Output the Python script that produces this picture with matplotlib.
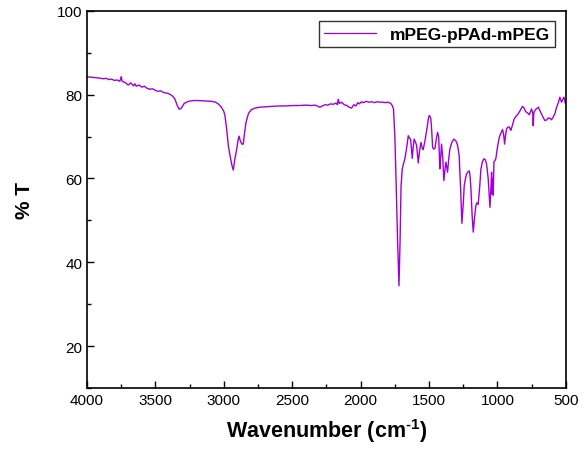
import matplotlib
matplotlib.use("Agg")
import matplotlib.pyplot as plt
from matplotlib.ticker import MultipleLocator

plt.rcParams['font.family'] = ['Liberation Sans', 'DejaVu Sans']
plt.rcParams['mathtext.fontset'] = 'custom'
plt.rcParams['mathtext.rm'] = 'Liberation Sans:bold'
plt.rcParams['mathtext.bf'] = 'Liberation Sans:bold'

# FTIR spectrum of mPEG-pPAd-mPEG
wavenumber = [4000, 3980, 3950, 3920, 3900, 3880, 3860, 3840, 3820, 3800, 3780,
              3760, 3750, 3745, 3740, 3720, 3700, 3680, 3660, 3650, 3640, 3620,
              3600, 3580, 3560, 3540, 3520, 3500, 3480, 3460, 3440, 3420, 3400,
              3380, 3360, 3340, 3326, 3310, 3290, 3260, 3220, 3187, 3140, 3089,
              3060, 3041, 3020, 3000, 2992, 2980, 2967, 2955, 2940, 2931, 2920,
              2906, 2895, 2889, 2880, 2868, 2858, 2848, 2838, 2820, 2800, 2772,
              2740, 2700, 2650, 2600, 2550, 2500, 2450, 2400, 2360, 2334, 2310,
              2297, 2280, 2260, 2240, 2220, 2200, 2180, 2170, 2164, 2155, 2140,
              2120, 2100, 2085, 2066, 2050, 2035, 2020, 2010, 1993, 1980, 1960,
              1940, 1920, 1900, 1880, 1860, 1840, 1820, 1799, 1780, 1769, 1760,
              1750, 1740, 1730, 1720, 1712, 1705, 1696, 1687, 1677, 1665, 1652,
              1643, 1635, 1623, 1616, 1609, 1600, 1591, 1579, 1570, 1559, 1550,
              1543, 1530, 1515, 1505, 1499, 1493, 1487, 1480, 1474, 1466, 1457,
              1448, 1438, 1430, 1421, 1415, 1409, 1400, 1392, 1384, 1377, 1370,
              1365, 1357, 1348, 1335, 1319, 1305, 1294, 1287, 1280, 1270, 1260,
              1250, 1243, 1234, 1226, 1215, 1206, 1200, 1194, 1185, 1177, 1168,
              1158, 1150, 1141, 1130, 1121, 1110, 1099, 1090, 1080, 1068, 1055,
              1049, 1043, 1039, 1036, 1031, 1026, 1020, 1012, 1000, 987, 975,
              963, 955, 948, 940, 933, 925, 914, 908, 902, 890, 878, 865, 849,
              835, 817, 805, 795, 787, 775, 768, 760, 751, 742, 739, 736, 734,
              720, 701, 690, 680, 665, 653, 640, 630, 617, 605, 592, 580, 568,
              556, 544, 538, 532, 524, 515, 510, 505, 500]
transmittance = [84.3, 84.2, 84.1, 84.0, 83.9, 83.8, 83.9, 83.6, 83.7, 83.4, 83.5,
                 83.2, 84.3, 83.4, 83.1, 82.9, 82.3, 82.8, 82.1, 82.6, 82.0, 82.3,
                 81.8, 82.0, 81.5, 81.3, 81.4, 81.0, 80.8, 80.9, 80.5, 80.4, 80.2,
                 79.8, 79.1, 77.4, 76.5, 76.8, 77.9, 78.4, 78.6, 78.6, 78.5, 78.4,
                 78.2, 77.8, 77.1, 76.0, 75.0, 72.0, 67.8, 65.5, 63.0, 62.0, 64.5,
                 67.0, 69.3, 70.1, 69.0, 68.2, 68.2, 71.0, 73.4, 75.5, 76.4, 76.8,
                 77.0, 77.1, 77.2, 77.3, 77.3, 77.4, 77.4, 77.5, 77.4, 77.5, 77.2,
                 77.0, 77.3, 77.6, 77.5, 77.8, 77.7, 78.0, 77.6, 78.9, 77.9, 78.2,
                 77.6, 77.4, 77.0, 76.8, 77.6, 77.3, 78.1, 77.8, 78.3, 78.1, 78.4,
                 78.2, 78.3, 78.1, 78.3, 78.2, 78.2, 78.1, 78.2, 77.9, 77.4, 76.6,
                 70.0, 58.0, 45.0, 34.4, 45.0, 58.0, 62.3, 63.5, 64.7, 67.0, 70.2,
                 69.6, 69.4, 64.8, 67.5, 69.4, 68.7, 67.9, 63.7, 66.5, 68.6, 67.2,
                 66.9, 69.0, 72.0, 74.3, 75.0, 74.8, 74.3, 71.0, 67.4, 67.0, 67.2,
                 69.2, 71.0, 70.0, 62.3, 65.0, 68.2, 65.0, 59.5, 62.0, 63.9, 62.5,
                 61.5, 64.5, 67.0, 68.5, 69.4, 69.0, 68.2, 67.0, 65.4, 58.0, 49.3,
                 54.0, 58.3, 60.0, 61.1, 61.6, 61.8, 60.5, 57.5, 51.0, 47.2, 50.5,
                 53.5, 54.2, 53.8, 58.0, 62.3, 64.0, 64.7, 64.5, 63.5, 60.0, 53.1,
                 57.0, 61.5, 56.3, 60.0, 56.0, 63.9, 64.2, 64.7, 67.5, 69.8, 70.8,
                 71.7, 70.5, 68.2, 70.5, 71.9, 72.2, 72.3, 71.8, 71.5, 72.8, 74.2,
                 74.8, 75.4, 76.2, 77.2, 76.8, 76.0, 75.8, 75.5, 75.2, 75.8, 76.6,
                 75.5, 72.6, 74.5, 75.8, 76.5, 77.0, 76.2, 75.5, 74.5, 73.8, 74.0,
                 74.4, 74.4, 74.0, 74.7, 75.5, 77.0, 78.0, 79.4, 78.8, 78.2, 78.8,
                 79.4, 78.9, 78.0, 78.2]

fig = plt.figure(figsize=(5.84, 4.56), dpi=100)
ax = fig.add_axes([0.149, 0.147, 0.82, 0.827])

ax.plot(wavenumber, transmittance, color='#A000D8', linewidth=1.0,
        label='mPEG-pPAd-mPEG')

ax.set_xlim(4000, 500)
ax.set_ylim(10, 100)
ax.xaxis.set_major_locator(MultipleLocator(500))
ax.xaxis.set_minor_locator(MultipleLocator(250))
ax.set_yticks([20, 40, 60, 80, 100])
ax.yaxis.set_minor_locator(MultipleLocator(10))
ax.tick_params(which='both', direction='in', top=False, right=False,
               labelsize=11, width=1)
ax.tick_params(which='major', length=5)
ax.tick_params(which='minor', length=3)
for s in ax.spines.values():
    s.set_linewidth(1.2)

ax.set_xlabel('Wavenumber (cm$^{\\text{-1}}$)', fontsize=15.5, fontweight='bold',
              labelpad=7)
ax.set_ylabel('% T', fontsize=15, fontweight='bold', labelpad=16)

leg = ax.legend(loc='upper right', frameon=True, fancybox=False,
                edgecolor='black', handlelength=3, borderpad=0.3,
                borderaxespad=0.6, prop={'weight': 'bold', 'size': 12.5})
leg.get_frame().set_linewidth(1.0)
leg.get_lines()[0].set_linewidth(0.9)

fig.savefig('out.png', dpi=100)
